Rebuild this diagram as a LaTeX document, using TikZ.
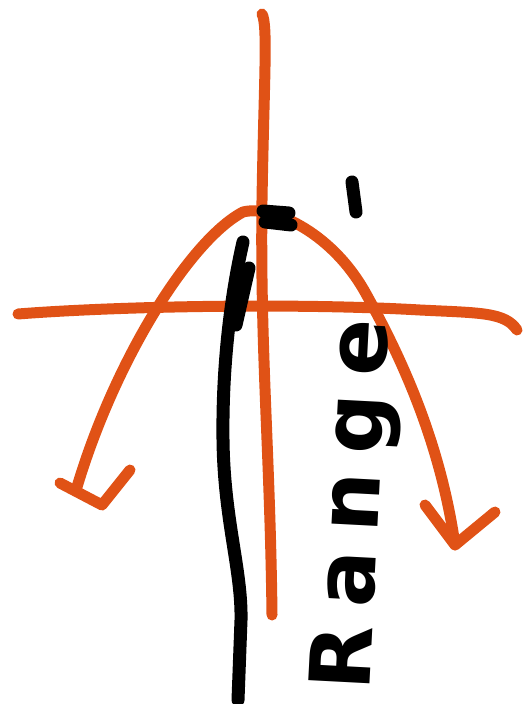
\documentclass[tikz,border=0pt]{standalone}
\usepackage{fontspec}
\newfontfamily\handfont[LetterSpace=22]{DejaVu Sans}
\definecolor{SketchOrange}{RGB}{224,82,22}
\definecolor{SketchInk}{RGB}{0,0,0}
\usetikzlibrary{positioning}

\begin{document}
\begin{tikzpicture}[x=0.5pt, y=-0.5pt,
	ax/.style={draw=SketchOrange, line width=5.5pt, line cap=round, line join=round},
	ink/.style={draw=SketchInk, line width=6.5pt, line cap=round, line join=round},
	lbl/.style={font=\handfont\bfseries\fontsize{42}{42}\selectfont, text=SketchInk, inner sep=0pt}]

	\useasboundingbox (0,0) rectangle (525,704);

	% --- axes ---
	\draw[ax] (262,14) .. controls (268,25) and (264,80) .. (262,200)
		.. controls (260,350) and (270,450) .. (272,615);
	\draw[ax] (18,314) .. controls (120,306) and (300,303) .. (420,310)
		.. controls (480,313) and (505,312) .. (517,330);

	% --- parabola ---
	\coordinate (left) at (77,487);
	\coordinate (top) at (243,212);
	\coordinate (right) at (455,545);
	\draw[ax] (left) .. controls (115,360) and (190,240) .. (top)
		.. controls (270,205) and (330,230) .. (365,292)
		.. controls (400,355) and (440,440) .. (right);
	\draw[ax] (60,483) -- (102,505) -- (130,470);
	\draw[ax] (425,505) -- (right) -- (495,512);

	% --- range line ---
	\draw[ink] (263,211) -- (289,213);
	\draw[ink] (265,222) -- (291,225);
	\draw[ink] (243,242) .. controls (232,290) and (222,360) .. (223,440)
		.. controls (224,520) and (242,570) .. (241,620) -- (238,700);
	\draw[ink] (249,268) -- (236,325);
	\draw[ink] (352,182) -- (356,212);

	\node[lbl, rotate=87, anchor=base] (range) at (379,506) {Range};
\end{tikzpicture}
\end{document}
